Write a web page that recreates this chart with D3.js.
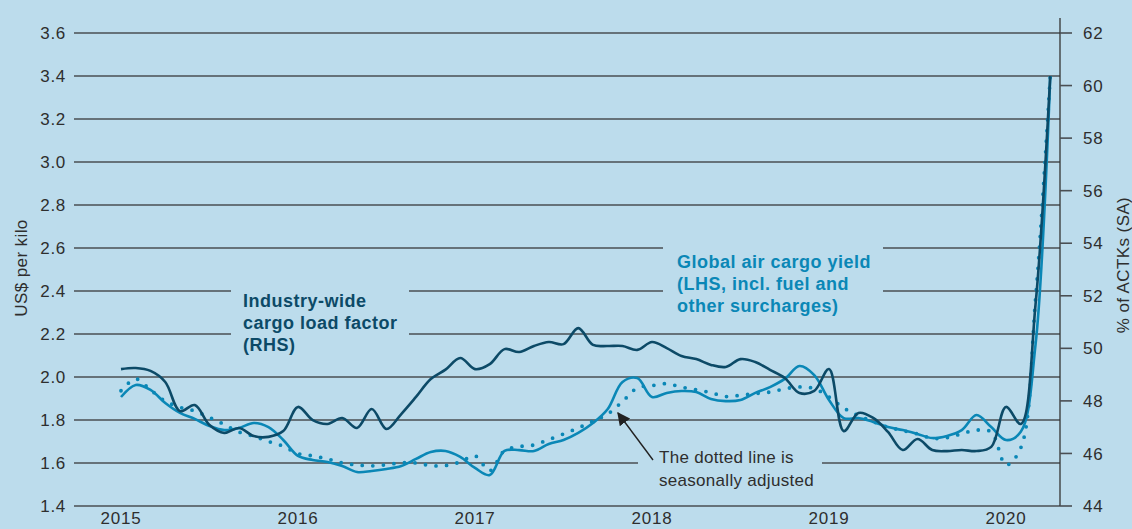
<!DOCTYPE html>
<html>
<head>
<meta charset="utf-8">
<script src="https://cdn.jsdelivr.net/npm/d3@7"></script>
<style>
  html, body { margin: 0; padding: 0; background: #bcdcec; }
  svg { display: block; }
  text { font-family: "Liberation Sans", Arial, Helvetica, sans-serif; }
</style>
</head>
<body>
<svg id="chart" width="1132" height="529"></svg>
<script>
// ---------------- DATA ----------------
// Monthly, Jan 2015 (index 0) to Apr 2020 (index 63)
const yearLabels = ["2015", "2016", "2017", "2018", "2019", "2020"];
const leftTicks = [1.4, 1.6, 1.8, 2.0, 2.2, 2.4, 2.6, 2.8, 3.0, 3.2, 3.4, 3.6];
const rightTicks = [44, 46, 48, 50, 52, 54, 56, 58, 60, 62];

// Industry-wide cargo load factor, % of ACTKs (RHS)
const loadFactor = [
  49.21, 49.25, 49.14, 48.72, 47.61, 47.84, 47.08, 46.78, 46.97, 46.66, 46.63, 46.85,
  47.77, 47.27, 47.12, 47.35, 46.97, 47.69, 46.93, 47.50, 48.15, 48.83, 49.19, 49.63,
  49.21, 49.40, 49.97, 49.86, 50.09, 50.24, 50.16, 50.77, 50.13, 50.09, 50.09, 49.94,
  50.24, 50.01, 49.71, 49.59, 49.37, 49.29, 49.59, 49.48, 49.18, 48.87, 48.30, 48.38,
  49.21, 46.85, 47.54, 47.35, 46.82, 46.13, 46.55, 46.13, 46.09, 46.13, 46.09, 46.25,
  47.77, 47.12, 51.65, 60.36
];

// Global air cargo yield, US$ per kilo (LHS)
const cargoYield = [
  1.907, 1.963, 1.940, 1.879, 1.833, 1.805, 1.772, 1.753, 1.763, 1.786, 1.767, 1.707,
  1.633, 1.614, 1.605, 1.586, 1.558, 1.563, 1.572, 1.586, 1.619, 1.651, 1.656, 1.628,
  1.577, 1.544, 1.656, 1.660, 1.656, 1.688, 1.707, 1.740, 1.786, 1.851, 1.977, 1.995,
  1.907, 1.926, 1.935, 1.930, 1.898, 1.888, 1.893, 1.926, 1.953, 1.991, 2.051, 2.009,
  1.893, 1.809, 1.809, 1.791, 1.767, 1.753, 1.735, 1.716, 1.726, 1.753, 1.823, 1.767,
  1.707, 1.745, 2.149, 3.400
];

// Global air cargo yield, seasonally adjusted (dotted)
const cargoYieldSA = [
  1.936, 1.991, 1.940, 1.888, 1.859, 1.842, 1.812, 1.779, 1.744, 1.724, 1.700, 1.678,
  1.644, 1.633, 1.619, 1.600, 1.591, 1.587, 1.592, 1.601, 1.600, 1.588, 1.588, 1.605,
  1.633, 1.564, 1.658, 1.676, 1.684, 1.709, 1.735, 1.763, 1.795, 1.828, 1.886, 1.949,
  1.960, 1.969, 1.953, 1.941, 1.927, 1.909, 1.915, 1.923, 1.930, 1.945, 1.954, 1.946,
  1.907, 1.856, 1.820, 1.792, 1.767, 1.751, 1.735, 1.715, 1.718, 1.736, 1.753, 1.744,
  1.591, 1.670, 2.358, 3.400
];

// ---------------- CHART ----------------
const BG = "#bcdcec";
const GRID = "#4a4f53";
const TXT = "#2e2e2e";
const DARK = "#0c4a67";
const TEAL = "#0a87b6";

const svg = d3.select("#chart");
svg.append("rect").attr("width", 1132).attr("height", 529).attr("fill", BG);

const gridLeft = 74, axisX = 1060;
const x = d3.scaleLinear().domain([0, 60]).range([121, 1006]);
const yL = d3.scaleLinear().domain([1.4, 3.6]).range([506, 33]);
const yR = d3.scaleLinear().domain([44, 62]).range([506, 33]);

// grid lines (left axis)
const gridG = svg.append("g");
gridG.selectAll("line").data(leftTicks).join("line")
  .attr("x1", gridLeft).attr("x2", axisX)
  .attr("y1", d => yL(d)).attr("y2", d => yL(d))
  .attr("stroke", GRID).attr("stroke-width", 1.6);

// left tick labels
svg.append("g").selectAll("text").data(leftTicks).join("text")
  .attr("x", 66).attr("y", d => yL(d)).attr("dy", "0.36em")
  .attr("text-anchor", "end").attr("fill", TXT)
  .style("font-size", "17px").style("letter-spacing", "0.7px")
  .text(d => d.toFixed(1));

// right axis
svg.append("line").attr("x1", axisX).attr("x2", axisX).attr("y1", 18).attr("y2", 506)
  .attr("stroke", "#333").attr("stroke-width", 1.3);
const rG = svg.append("g");
rG.selectAll("line").data(rightTicks).join("line")
  .attr("x1", axisX).attr("x2", 1072)
  .attr("y1", d => yR(d)).attr("y2", d => yR(d))
  .attr("stroke", GRID).attr("stroke-width", 1.6);
rG.selectAll("text").data(rightTicks).join("text")
  .attr("x", 1083).attr("y", d => yR(d)).attr("dy", "0.36em")
  .attr("fill", TXT)
  .style("font-size", "17px").style("letter-spacing", "0.7px")
  .text(d => d);

// x labels
svg.append("g").selectAll("text").data(yearLabels).join("text")
  .attr("x", (d, i) => x(i * 12)).attr("y", 524)
  .attr("text-anchor", "middle").attr("fill", TXT)
  .style("font-size", "17px").style("letter-spacing", "0.8px")
  .text(d => d);

// axis titles
svg.append("text").attr("transform", "translate(27,268) rotate(-90)")
  .attr("text-anchor", "middle").attr("fill", TXT)
  .style("font-size", "17px").style("letter-spacing", "0.4px")
  .text("US$ per kilo");
svg.append("text").attr("transform", "translate(1129,265) rotate(-90)")
  .attr("text-anchor", "middle").attr("fill", TXT)
  .style("font-size", "17px").style("letter-spacing", "0.4px")
  .text("% of ACTKs (SA)");

// gaps in the grid behind labels
const gaps = [[231, 409, 282, 342], [663, 883, 238, 300], [638, 822, 455, 470]];
svg.append("g").selectAll("rect").data(gaps).join("rect")
  .attr("x", d => d[0]).attr("width", d => d[1] - d[0])
  .attr("y", d => d[2]).attr("height", d => d[3] - d[2])
  .attr("fill", BG);

// lines
const curve = d3.curveCatmullRom.alpha(0.5);
const lineL = d3.line().x((d, i) => x(i)).y(d => yL(d)).curve(curve);
const lineR = d3.line().x((d, i) => x(i)).y(d => yR(d)).curve(curve);

svg.append("path").datum(cargoYieldSA).attr("d", lineL)
  .attr("fill", "none").attr("stroke", TEAL).attr("stroke-width", 3.8)
  .attr("stroke-linecap", "round").attr("stroke-dasharray", "0 10.6");
svg.append("path").datum(cargoYield).attr("d", lineL)
  .attr("fill", "none").attr("stroke", TEAL).attr("stroke-width", 2.6)
  .attr("stroke-linejoin", "round");
svg.append("path").datum(loadFactor).attr("d", lineR)
  .attr("fill", "none").attr("stroke", DARK).attr("stroke-width", 2.6)
  .attr("stroke-linejoin", "round");

// series labels
function block(lines, x0, y0, color) {
  const t = svg.append("text").attr("fill", color)
    .style("font-size", "18px").style("font-weight", "bold").style("letter-spacing", "0.5px");
  lines.forEach((s, i) => t.append("tspan").attr("x", x0).attr("y", y0 + i * 22).text(s));
}
block(["Industry-wide", "cargo load factor", "(RHS)"], 243, 307, DARK);
block(["Global air cargo yield", "(LHS, incl. fuel and", "other surcharges)"], 677, 268, TEAL);

// annotation
const ann = svg.append("text").attr("fill", TXT)
  .style("font-size", "17px").style("letter-spacing", "0.3px");
ann.append("tspan").attr("x", 659).attr("y", 463).text("The dotted line is");
ann.append("tspan").attr("x", 659).attr("y", 486).text("seasonally adjusted");

svg.append("defs").append("marker").attr("id", "arr")
  .attr("viewBox", "0 0 10 10").attr("refX", 9).attr("refY", 5)
  .attr("markerWidth", 13).attr("markerHeight", 13).attr("markerUnits", "userSpaceOnUse")
  .attr("orient", "auto")
  .append("path").attr("d", "M0,0 L10,5 L0,10 Z").attr("fill", "#222");
svg.append("line").attr("x1", 653).attr("y1", 460).attr("x2", 618).attr("y2", 413)
  .attr("stroke", "#222").attr("stroke-width", 1.4).attr("marker-end", "url(#arr)");
</script>
</body>
</html>
